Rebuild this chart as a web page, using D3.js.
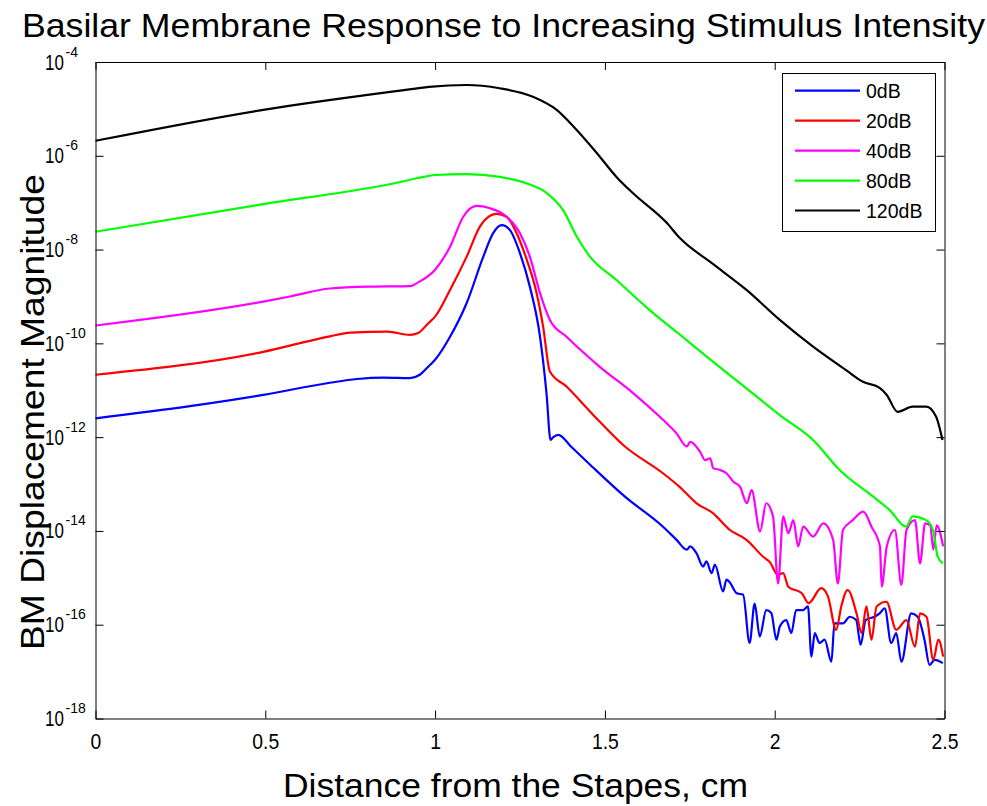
<!DOCTYPE html>
<html>
<head>
<meta charset="utf-8">
<script src="https://cdn.jsdelivr.net/npm/d3@7"></script>
<style>
  html, body { margin: 0; padding: 0; background: #fff; }
  svg { display: block; font-family: "Liberation Sans", Arial, sans-serif; }
</style>
</head>
<body>
<svg id="chart" width="987" height="806"></svg>
<script>
// Distance along the basilar membrane (cm) and log10 of displacement magnitude, per stimulus level.
const dist0dB = [0, 0.278, 0.494, 0.69, 0.77, 0.85, 0.926, 0.955, 0.975, 1.0, 1.044, 1.093, 1.142, 1.171, 1.196, 1.22, 1.25, 1.279, 1.309, 1.328, 1.34, 1.348, 1.363, 1.40, 1.461, 1.559, 1.671, 1.711, 1.741, 1.751, 1.77, 1.789, 1.799, 1.814, 1.824, 1.848, 1.858, 1.868, 1.888, 1.907, 1.926, 1.941, 1.956, 1.975, 1.99, 2.005, 2.015, 2.034, 2.049, 2.063, 2.083, 2.098, 2.108, 2.118, 2.132, 2.147, 2.167, 2.176, 2.201, 2.221, 2.24, 2.253, 2.268, 2.294, 2.309, 2.324, 2.343, 2.358, 2.373, 2.402, 2.421, 2.441, 2.456, 2.471, 2.495];
const logMag0dB = [-11.60, -11.34, -11.10, -10.84, -10.76, -10.73, -10.74, -10.67, -10.53, -10.35, -9.86, -9.14, -8.15, -7.65, -7.48, -7.58, -8.08, -8.79, -9.86, -11.06, -12.06, -12.0, -11.95, -12.20, -12.62, -13.27, -13.91, -14.19, -14.40, -14.33, -14.48, -14.76, -14.65, -14.90, -14.72, -15.29, -15.04, -15.10, -15.33, -15.36, -16.39, -15.55, -16.25, -15.69, -15.75, -16.32, -16.04, -15.90, -16.18, -15.69, -15.69, -15.61, -16.68, -16.18, -16.39, -16.32, -16.79, -15.97, -15.97, -15.83, -15.90, -16.43, -15.90, -15.83, -15.76, -15.65, -16.39, -16.18, -16.79, -15.76, -15.83, -16.32, -16.86, -16.75, -16.82];

const dist20dB = [0, 0.494, 0.69, 0.75, 0.86, 0.926, 0.95, 0.98, 1.0, 1.044, 1.093, 1.132, 1.162, 1.181, 1.21, 1.24, 1.27, 1.299, 1.318, 1.338, 1.387, 1.461, 1.559, 1.671, 1.72, 1.77, 1.818, 1.868, 1.917, 1.966, 1.985, 2.01, 2.025, 2.04, 2.08, 2.1, 2.137, 2.157, 2.181, 2.196, 2.215, 2.241, 2.256, 2.27, 2.285, 2.3, 2.329, 2.358, 2.388, 2.413, 2.428, 2.447, 2.467, 2.482, 2.496];
const logMag20dB = [-10.67, -10.18, -9.85, -9.77, -9.75, -9.82, -9.78, -9.57, -9.43, -8.86, -8.15, -7.51, -7.28, -7.24, -7.30, -7.65, -8.22, -8.93, -9.64, -10.60, -10.92, -11.49, -12.20, -12.77, -13.06, -13.41, -13.62, -13.98, -14.19, -14.55, -14.66, -14.94, -14.90, -15.19, -15.33, -15.54, -15.22, -15.40, -16.11, -15.61, -15.26, -15.76, -16.18, -15.61, -16.32, -15.61, -15.51, -16.11, -15.90, -16.47, -15.76, -15.83, -16.75, -16.32, -16.68];

const dist40dB = [0, 0.494, 0.573, 0.69, 0.808, 0.926, 0.95, 1.0, 1.044, 1.083, 1.122, 1.162, 1.211, 1.25, 1.279, 1.309, 1.338, 1.387, 1.485, 1.583, 1.671, 1.711, 1.741, 1.751, 1.78, 1.795, 1.81, 1.819, 1.839, 1.858, 1.878, 1.898, 1.918, 1.932, 1.957, 1.975, 1.995, 2.01, 2.025, 2.04, 2.055, 2.069, 2.084, 2.113, 2.143, 2.172, 2.186, 2.201, 2.23, 2.261, 2.285, 2.31, 2.315, 2.33, 2.354, 2.373, 2.388, 2.413, 2.428, 2.443, 2.458, 2.467, 2.477, 2.496];
const logMag40dB = [-9.62, -9.11, -9.00, -8.83, -8.79, -8.78, -8.70, -8.43, -7.94, -7.30, -7.07, -7.12, -7.30, -7.65, -8.15, -8.93, -9.50, -9.86, -10.50, -11.06, -11.63, -11.92, -12.20, -12.10, -12.31, -12.49, -12.45, -12.66, -12.70, -12.77, -12.95, -13.06, -13.41, -13.13, -14.01, -13.41, -13.69, -15.12, -13.69, -14.05, -13.77, -14.33, -13.91, -14.12, -13.84, -14.19, -15.12, -13.98, -13.77, -13.59, -13.91, -14.33, -15.19, -14.33, -13.98, -15.15, -13.98, -13.77, -14.69, -13.84, -13.88, -14.40, -13.88, -14.33];

const dist80dB = [0, 0.494, 0.897, 0.946, 1.0, 1.093, 1.19, 1.27, 1.33, 1.377, 1.417, 1.456, 1.534, 1.632, 1.73, 1.818, 1.917, 2.015, 2.113, 2.191, 2.29, 2.338, 2.387, 2.406, 2.446, 2.466, 2.48, 2.495];
const logMag80dB = [-7.62, -7.03, -6.56, -6.48, -6.41, -6.39, -6.45, -6.59, -6.80, -7.16, -7.72, -8.15, -8.65, -9.29, -9.87, -10.39, -10.96, -11.53, -12.06, -12.70, -13.27, -13.55, -13.91, -13.69, -13.77, -13.98, -14.55, -14.69];

const dist120dB = [0, 0.494, 0.897, 0.982, 1.093, 1.19, 1.288, 1.358, 1.417, 1.476, 1.534, 1.583, 1.682, 1.72, 1.815, 1.917, 2.015, 2.113, 2.21, 2.26, 2.309, 2.33, 2.362, 2.406, 2.446, 2.475, 2.494];
const logMag120dB = [-5.68, -5.02, -4.61, -4.53, -4.49, -4.56, -4.74, -5.02, -5.45, -5.94, -6.45, -6.80, -7.43, -7.75, -8.29, -8.86, -9.50, -10.07, -10.57, -10.82, -10.95, -11.10, -11.46, -11.35, -11.35, -11.56, -12.06];

const seriesNames = ["0dB", "20dB", "40dB", "80dB", "120dB"];
const seriesColors = ["#0000ff", "#ff0000", "#ff00ff", "#00ff00", "#000000"];
const seriesDist = [dist0dB, dist20dB, dist40dB, dist80dB, dist120dB];
const seriesLogMag = [logMag0dB, logMag20dB, logMag40dB, logMag80dB, logMag120dB];

const xTickValues = [0, 0.5, 1, 1.5, 2, 2.5];
const xTickLabels = ["0", "0.5", "1", "1.5", "2", "2.5"];
const yTickExponents = [-18, -16, -14, -12, -10, -8, -6, -4];

const titleText = "Basilar Membrane Response to Increasing Stimulus Intensity";
const xLabelText = "Distance from the Stapes, cm";
const yLabelText = "BM Displacement Magnitude";

// ---- layout ----
const svg = d3.select("#chart");
const plotLeft = 95.5, plotRight = 944.5, plotTop = 62, plotBottom = 718.5;

const x = d3.scaleLinear().domain([0, 2.5]).range([plotLeft, plotRight]);
const y = d3.scaleLog().domain([1e-18, 1e-4]).range([plotBottom, plotTop]);

// ---- curves ----
const line = d3.line()
  .curve(d3.curveMonotoneX)
  .x(d => x(d[0]))
  .y(d => y(d[1]));

const plot = svg.append("g");
seriesNames.forEach((name, i) => {
  const pts = seriesDist[i].map((d, j) => [d, Math.pow(10, seriesLogMag[i][j])]);
  plot.append("path")
    .datum(pts)
    .attr("fill", "none")
    .attr("stroke", seriesColors[i])
    .attr("stroke-width", 2.2)
    .attr("stroke-linejoin", "round")
    .attr("d", line);
});

// ---- axes (box with inward ticks on all four sides) ----
const yTickVals = yTickExponents.map(e => Math.pow(10, e));
const styleAxis = g => {
  g.select(".domain").attr("stroke", "#000").attr("stroke-width", 1);
  g.selectAll(".tick line").attr("stroke", "#000").attr("stroke-width", 1);
};

svg.append("g")
  .attr("transform", `translate(0,${plotBottom})`)
  .call(d3.axisBottom(x).tickValues(xTickValues).tickSizeInner(-8).tickSizeOuter(0)
    .tickFormat((d, i) => xTickLabels[i]))
  .call(styleAxis)
  .call(g => g.selectAll(".tick text")
    .attr("y", 30).attr("dy", null)
    .attr("font-size", 22).attr("fill", "#000")
    .attr("font-family", "Liberation Sans, Arial, sans-serif")
    .each(function () {
      const w = this.getComputedTextLength();
      d3.select(this).attr("textLength", w * 0.88).attr("lengthAdjust", "spacingAndGlyphs");
    }));

svg.append("g")
  .attr("transform", `translate(0,${plotTop})`)
  .call(d3.axisTop(x).tickValues(xTickValues).tickSizeInner(-8).tickSizeOuter(0).tickFormat(""))
  .call(styleAxis);

svg.append("g")
  .attr("transform", `translate(${plotLeft},0)`)
  .call(d3.axisLeft(y).tickValues(yTickVals).tickSizeInner(-8).tickSizeOuter(0).tickFormat(""))
  .call(styleAxis)
  .call(g => g.selectAll(".tick").each(function (d) {
    const e = Math.round(Math.log10(d));
    const tick = d3.select(this);
    // base "10", narrowed horizontally
    tick.append("text")
      .attr("transform", `translate(${45 - plotLeft},7) scale(0.77,1)`)
      .attr("fill", "#000")
      .attr("font-family", "Liberation Sans, Arial, sans-serif")
      .attr("font-size", 22)
      .attr("text-anchor", "start")
      .text("10");
    // exponent
    tick.append("text")
      .attr("x", 65.5 - plotLeft).attr("y", -6)
      .attr("fill", "#000")
      .attr("font-family", "Liberation Sans, Arial, sans-serif")
      .attr("font-size", 14)
      .attr("text-anchor", "start")
      .text(String(e));
  }));

svg.append("g")
  .attr("transform", `translate(${plotRight},0)`)
  .call(d3.axisRight(y).tickValues(yTickVals).tickSizeInner(-8).tickSizeOuter(0).tickFormat(""))
  .call(styleAxis);

// ---- titles ----
svg.append("text")
  .attr("x", 22).attr("y", 37)
  .attr("font-size", 33)
  .attr("textLength", 963).attr("lengthAdjust", "spacingAndGlyphs")
  .attr("fill", "#000")
  .text(titleText);

svg.append("text")
  .attr("x", 283).attr("y", 797)
  .attr("font-size", 33)
  .attr("textLength", 465).attr("lengthAdjust", "spacingAndGlyphs")
  .attr("fill", "#000")
  .text(xLabelText);

svg.append("text")
  .attr("transform", "translate(44,650) rotate(-90)")
  .attr("x", 0).attr("y", 0)
  .attr("font-size", 33)
  .attr("textLength", 476).attr("lengthAdjust", "spacingAndGlyphs")
  .attr("fill", "#000")
  .text(yLabelText);

// ---- legend ----
const legend = svg.append("g");
legend.append("rect")
  .attr("x", 782.5).attr("y", 73.5)
  .attr("width", 153).attr("height", 158)
  .attr("fill", "#fff").attr("stroke", "#000").attr("stroke-width", 1);

const legendRowY = d3.scalePoint().domain(seriesNames).range([90.7, 210.5]);
seriesNames.forEach((name, i) => {
  const yy = legendRowY(name);
  legend.append("line")
    .attr("x1", 795).attr("x2", 860)
    .attr("y1", yy).attr("y2", yy)
    .attr("stroke", seriesColors[i]).attr("stroke-width", 2.2);
  legend.append("text")
    .attr("x", 866).attr("y", yy + 7)
    .attr("font-size", 19.5)
    .attr("fill", "#000")
    .text(name);
});
</script>
</body>
</html>
